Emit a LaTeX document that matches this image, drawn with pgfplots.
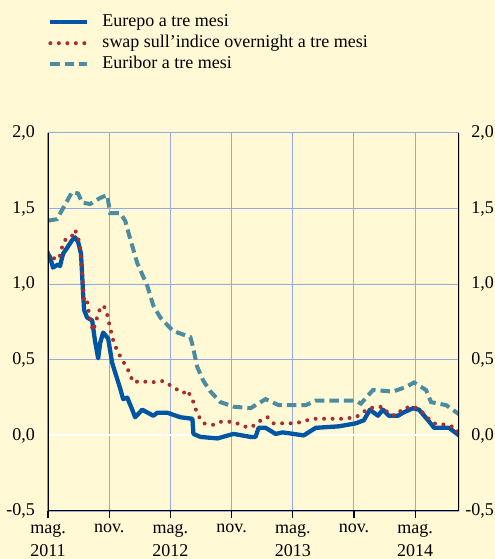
\documentclass[border=0pt]{standalone}
\usepackage{fontspec}
\setmainfont{Liberation Serif}
\usepackage{pgfplots}
\pgfplotsset{compat=1.18}
\definecolor{bgc}{RGB}{255,249,213}
\definecolor{gridc}{RGB}{150,170,225}
\definecolor{eurepo}{RGB}{0,85,165}
\definecolor{swapc}{RGB}{170,45,45}
\definecolor{euribor}{RGB}{75,140,160}
\newcommand{\ff}{\fontsize{18bp}{23bp}\selectfont}
\begin{document}
\ff
\begin{tikzpicture}
\fill[bgc] (-48bp,-48bp) rectangle (447bp,511bp);
\path[use as bounding box] (-48bp,-48bp) rectangle (447bp,511bp);
\begin{axis}[
  at={(0,0)}, anchor=south west,
  scale only axis, width=411bp, height=378bp,
  xmin=0, xmax=40.3, ymin=-0.5, ymax=2,
  axis line style={draw=none},
  xtick={0,6,12,18,24,30,36},
  xticklabels={mag.\\2011, nov., mag.\\2012, nov., mag.\\2013, nov., mag.\\2014},
  xticklabel style={align=center, font=\ff},
  xtick pos=bottom, tick align=outside, major tick length=7bp,
  x tick style={black, line width=1.2bp},
  ytick={-0.5,0,0.5,1,1.5,2},
  ytick style={draw=none},
  yticklabel style={font=\ff, /pgf/number format/.cd, use comma, fixed, fixed zerofill, precision=1},
  /pgf/number format/assume math mode=true,
  grid=major, major grid style={gridc, line width=1bp},
  legend style={at={(0,1)}, anchor=north west, yshift=121.5bp, draw=none, fill=none, inner sep=0pt,
    font=\ff, nodes={inner xsep=0pt, inner ysep=2bp, text height=13bp, text depth=4bp, anchor=west}},
  legend cell align=left,
  legend image code/.code={\draw[#1] (0bp,0bp) -- (37bp,0bp); \path (0bp,-1bp) (50bp,1bp);},
]
\addplot[white, line width=2bp, forget plot] coordinates {(0,0) (40.3,0)};
\addplot[eurepo, line width=4.3bp, mark=none, line join=round] coordinates {
(0,1.20) (0.2,1.18) (0.49,1.11) (0.98,1.13) (1.18,1.12) (1.47,1.20) (1.87,1.24) (2.36,1.29) (2.65,1.31) (2.95,1.28) (3.24,1.20) (3.44,0.94) (3.54,0.83) (3.83,0.78) (4.33,0.76) (4.62,0.62) (4.92,0.51) (5.11,0.61) (5.41,0.68) (5.90,0.64) (6.29,0.48) (7.08,0.31) (7.37,0.24) (7.77,0.25) (8.26,0.17) (8.55,0.12) (9.24,0.17) (10.32,0.13) (10.72,0.15) (11.70,0.15) (12.98,0.12) (14.16,0.11) (14.26,0.01) (14.95,-0.01) (16.62,-0.02) (18.19,0.01) (19.86,-0.01) (20.35,-0.01) (20.65,0.05) (21.34,0.05) (22.32,0.01) (23.01,0.02) (25.07,0.00) (26.25,0.05) (28.52,0.06) (30.19,0.08) (30.97,0.10) (31.56,0.17) (32.35,0.13) (32.84,0.17) (33.43,0.13) (34.32,0.13) (34.81,0.15) (35.79,0.18) (36.38,0.17) (37.27,0.10) (37.86,0.05) (39.33,0.05) (40.3,0.00)
};
\addlegendentry{Eurepo a tre mesi}
\addplot[swapc, line width=4bp, mark=none, line cap=round, dash pattern=on 0bp off 8.5bp] coordinates {
(0,1.21) (0.39,1.18) (0.88,1.16) (1.18,1.19) (1.47,1.27) (1.87,1.31) (2.36,1.32) (2.65,1.36) (2.95,1.31) (3.15,1.24) (3.34,1.09) (3.54,0.88) (3.83,0.89) (4.03,0.80) (4.23,0.74) (4.42,0.69) (4.82,0.78) (5.11,0.84) (5.41,0.86) (5.70,0.83) (6.10,0.71) (6.39,0.63) (6.78,0.56) (7.28,0.50) (7.87,0.43) (8.36,0.35) (9.05,0.36) (10.03,0.35) (11.31,0.36) (12.49,0.31) (13.27,0.28) (13.67,0.30) (14.26,0.22) (14.65,0.14) (15.24,0.08) (16.22,0.07) (16.91,0.09) (18.19,0.09) (18.88,0.07) (19.67,0.05) (20.35,0.07) (21.04,0.11) (21.53,0.12) (22.12,0.08) (24.29,0.08) (25.96,0.11) (28.91,0.11) (30.19,0.12) (31.47,0.18) (32.84,0.19) (33.43,0.14) (34.12,0.13) (34.81,0.18) (35.89,0.19) (36.77,0.15) (37.76,0.08) (39.04,0.07) (40.02,0.05) (40.3,0.00)
};
\addlegendentry{swap sull'indice overnight a tre mesi}
\addplot[euribor, line width=4bp, mark=none, dash pattern=on 9.5bp off 5bp] coordinates {
(0,1.42) (0.88,1.43) (2.36,1.61) (2.95,1.60) (3.34,1.54) (4.13,1.53) (5.11,1.57) (5.80,1.59) (6.10,1.47) (7.08,1.47) (7.57,1.42) (8.06,1.30) (8.75,1.14) (9.73,0.99) (10.32,0.86) (11.01,0.78) (11.70,0.73) (12.29,0.69) (13.96,0.65) (14.16,0.60) (14.65,0.45) (15.24,0.36) (15.93,0.29) (16.91,0.22) (18.19,0.19) (19.86,0.18) (21.34,0.24) (22.62,0.20) (25.27,0.20) (26.25,0.23) (30.19,0.23) (30.68,0.21) (31.86,0.30) (33.82,0.29) (35.10,0.32) (35.89,0.35) (37.07,0.30) (37.56,0.22) (39.04,0.20) (40.3,0.14)
};
\addlegendentry{Euribor a tre mesi}
\draw[black, line width=1.2bp] (rel axis cs:0,1) -- (rel axis cs:0,0) -- (rel axis cs:1,0) -- (rel axis cs:1,1);
\end{axis}
\begin{axis}[
  at={(0,0)}, anchor=south west,
  scale only axis, width=411bp, height=378bp,
  xmin=0, xmax=40.3, ymin=-0.5, ymax=2,
  axis line style={draw=none},
  xtick=\empty,
  ytick={-0.5,0,0.5,1,1.5,2},
  ytick style={draw=none},
  yticklabel pos=right,
  yticklabel style={font=\ff, anchor=east, inner xsep=0pt, xshift=35bp, /pgf/number format/.cd, use comma, fixed, fixed zerofill, precision=1},
  /pgf/number format/assume math mode=true,
]
\end{axis}
\end{tikzpicture}
\end{document}
